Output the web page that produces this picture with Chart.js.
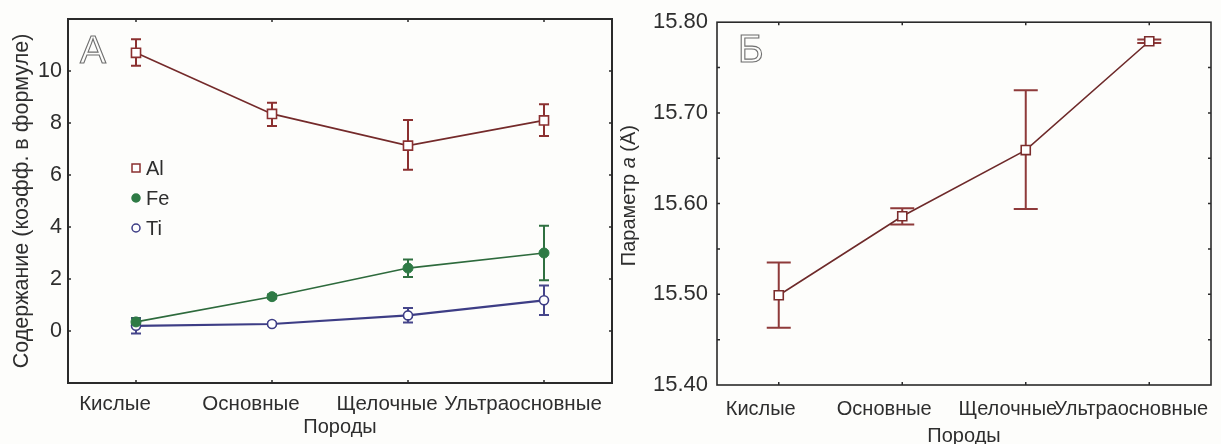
<!DOCTYPE html>
<html>
<head>
<meta charset="utf-8">
<script src="https://cdn.jsdelivr.net/npm/chart.js@4.4.1/dist/chart.umd.min.js"></script>
<style>
html, body { margin: 0; padding: 0; background: #fdfdfb; }
#wrap { position: relative; width: 1221px; height: 444px; overflow: hidden; }
#left { position: absolute; left: 0; top: 0; }
#right { position: absolute; left: 620px; top: 0; }
</style>
</head>
<body>
<div id="wrap">
    <canvas id="left" width="620" height="444"></canvas>
    <canvas id="right" width="601" height="444"></canvas>
</div>
<script>
// categories
var rocks = ['Кислые', 'Основные', 'Щелочные', 'Ультраосновные'];

// panel A: content (formula coefficients), mean and error bar ends
var al = [10.7, 8.35, 7.13, 8.1];
var alLo = [10.2, 7.88, 6.2, 7.5];
var alHi = [11.22, 8.78, 8.12, 8.72];
var fe = [0.35, 1.32, 2.42, 3.0];
var feLo = [0.2, 1.25, 2.08, 1.95];
var feHi = [0.5, 1.4, 2.75, 4.05];
var ti = [0.2, 0.27, 0.6, 1.18];
var tiLo = [-0.1, 0.22, 0.33, 0.62];
var tiHi = [0.48, 0.32, 0.88, 1.75];

// panel Б: cell parameter a
var pa = [15.499, 15.586, 15.659, 15.779];
var paLo = [15.463, 15.577, 15.594, 15.777];
var paHi = [15.535, 15.595, 15.725, 15.781];

var FONT = "'Liberation Sans', Arial, sans-serif";
var TXT = '#2e2e2e';

// error bars, drawn under the points
var errorBars = {
    id: 'errorBars',
    beforeDatasetsDraw: function(chart) {
        var ctx = chart.ctx;
        var y = chart.scales.y;
        var cap = chart.options.plugins.errorBars.cap;
        chart.data.datasets.forEach(function(ds, di) {
            var meta = chart.getDatasetMeta(di);
            ctx.save();
            ctx.strokeStyle = ds.errColor;
            ctx.lineWidth = 2;
            ctx.beginPath();
            meta.data.forEach(function(pt, i) {
                var t = y.getPixelForValue(ds.hi[i]);
                var b = y.getPixelForValue(ds.lo[i]);
                ctx.moveTo(pt.x, t); ctx.lineTo(pt.x, b);
                ctx.moveTo(pt.x - cap, t); ctx.lineTo(pt.x + cap, t);
                ctx.moveTo(pt.x - cap, b); ctx.lineTo(pt.x + cap, b);
            });
            ctx.stroke();
            ctx.restore();
        });
    }
};

// box round the plot and small inward ticks on every side
var frame = {
    id: 'frame',
    afterDraw: function(chart) {
        var ctx = chart.ctx, a = chart.chartArea;
        var x = chart.scales.x, y = chart.scales.y;
        ctx.save();
        ctx.strokeStyle = '#2a2a2a';
        ctx.lineWidth = chart.options.plugins.frame.width;
        ctx.strokeRect(a.left, a.top, a.right - a.left, a.bottom - a.top);
        ctx.lineWidth = 1.5;
        ctx.beginPath();
        x.ticks.forEach(function(t, i) {
            var px = x.getPixelForTick(i);
            ctx.moveTo(px, a.bottom); ctx.lineTo(px, a.bottom - 3);
            ctx.moveTo(px, a.top); ctx.lineTo(px, a.top + 3);
        });
        y.ticks.forEach(function(t, i) {
            var py = y.getPixelForTick(i);
            if (py <= a.top + 1 || py >= a.bottom - 1) return;
            ctx.moveTo(a.left, py); ctx.lineTo(a.left + 3, py);
            ctx.moveTo(a.right, py); ctx.lineTo(a.right - 3, py);
        });
        ctx.stroke();

        // outlined panel letter
        var o = chart.options.plugins.frame;
        ctx.font = '39px ' + FONT;
        ctx.textBaseline = 'top';
        ctx.strokeStyle = '#6f6f6f';
        ctx.lineWidth = 1.1;
        ctx.strokeText(o.letter, a.left + o.lx, a.top + o.ly);
        ctx.restore();
    }
};

// legend inside panel A
var innerLegend = {
    id: 'innerLegend',
    afterDraw: function(chart) {
        var o = chart.options.plugins.innerLegend;
        if (!o.show) return;
        var ctx = chart.ctx;
        ctx.save();
        ctx.font = '20px ' + FONT;
        ctx.textBaseline = 'middle';
        chart.data.datasets.forEach(function(ds, i) {
            var cx = o.x, cy = o.y + i * o.step;
            ctx.lineWidth = 1.5;
            ctx.strokeStyle = ds.pointBorderColor;
            ctx.fillStyle = ds.pointBackgroundColor;
            ctx.beginPath();
            if (ds.pointStyle === 'rect') {
                ctx.rect(cx - 4, cy - 4, 8, 8);
            } else {
                ctx.arc(cx, cy, 4, 0, Math.PI * 2);
            }
            ctx.fill();
            ctx.stroke();
            ctx.fillStyle = TXT;
            ctx.fillText(ds.label, cx + 10, cy + 1);
        });
        ctx.restore();
    }
};

// y title of panel Б with italic a
var paramTitle = {
    id: 'paramTitle',
    afterDraw: function(chart) {
        var o = chart.options.plugins.paramTitle;
        if (!o.show) return;
        var ctx = chart.ctx, a = chart.chartArea;
        var parts = [['Параметр ', 'normal'], ['a', 'italic'], [' (Å)', 'normal']];
        ctx.save();
        ctx.fillStyle = TXT;
        ctx.textBaseline = 'middle';
        var w = 0;
        parts.forEach(function(p) { ctx.font = p[1] + ' 20px ' + FONT; w += ctx.measureText(p[0]).width; });
        ctx.translate(o.x, (a.top + a.bottom) / 2 - 8);
        ctx.rotate(-Math.PI / 2);
        var cx = -w / 2;
        parts.forEach(function(p) {
            ctx.font = p[1] + ' 20px ' + FONT;
            ctx.fillText(p[0], cx, 0);
            cx += ctx.measureText(p[0]).width;
        });
        ctx.restore();
    }
};

function baseOptions(o) {
    return {
        responsive: false,
        animation: false,
        devicePixelRatio: 1,
        layout: { padding: { top: o.top, right: o.right, left: 0, bottom: 0 } },
        plugins: {
            legend: { display: false },
            tooltip: { enabled: false },
            errorBars: { cap: o.cap },
            frame: { width: o.frameWidth, letter: o.letter, lx: o.lx, ly: o.ly },
            innerLegend: { show: o.legend, x: 136, y: 168, step: 30 },
            paramTitle: { show: o.param, x: 9 }
        },
        scales: {
            x: {
                offset: true,
                grid: { display: false, drawTicks: false },
                border: { display: false },
                ticks: {
                    color: TXT, font: { family: FONT, size: o.xfont }, padding: o.xpad,
                    maxRotation: 0, autoSkip: false, labelOffset: o.labelOffset
                },
                title: {
                    display: true, text: 'Породы', color: TXT,
                    font: { family: FONT, size: 20, lineHeight: o.xtLine },
                    padding: { top: 0, bottom: o.xtPad }
                },
                afterFit: function(s) {
                    s.height = o.xh;
                    // long last label may hang past the plot edge, as in the original
                    s.paddingLeft = 0;
                    s.paddingRight = 0;
                }
            },
            y: o.y
        }
    };
}

var leftY = {
    min: -2, max: 12,
    grid: { display: false, drawTicks: false },
    border: { display: false },
    ticks: {
        stepSize: 2, color: TXT, font: { family: FONT, size: 21.5 }, padding: 6,
        callback: function(v) { return (v < 0 || v > 10) ? '' : v; }
    },
    title: {
        display: true, text: 'Содержание (коэфф. в формуле)', color: TXT,
        font: { family: FONT, size: 21.5, lineHeight: 1.2 },
        padding: { top: 9, bottom: 0 }
    },
    afterFit: function(s) { s.width = 68; }
};

var rightY = {
    min: 15.4, max: 15.8,
    grid: { display: false, drawTicks: false },
    border: { display: false },
    ticks: {
        stepSize: 0.05, color: TXT, font: { family: FONT, size: 22 }, padding: 9,
        callback: function(v) {
            var k = Math.round(v * 100);
            return k % 10 === 0 ? (k / 100).toFixed(2) : '';
        }
    },
    title: { display: false },
    afterFit: function(s) { s.width = 97; }
};

new Chart(document.getElementById('left'), {
    type: 'line',
    data: {
        labels: rocks,
        datasets: [{
            label: 'Al', data: al, lo: alLo, hi: alHi, errColor: '#8b3030',
            borderColor: '#742a2a', borderWidth: 1.6,
            pointStyle: 'rect', pointRadius: 6.4, pointBorderWidth: 1.6,
            pointBorderColor: '#8b3030', pointBackgroundColor: '#ffffff'
        }, {
            label: 'Fe', data: fe, lo: feLo, hi: feHi, errColor: '#2f7040',
            borderColor: '#2d6a3c', borderWidth: 1.6,
            pointStyle: 'circle', pointRadius: 5, pointBorderWidth: 1,
            pointBorderColor: '#2e7a45', pointBackgroundColor: '#2e7a45'
        }, {
            label: 'Ti', data: ti, lo: tiLo, hi: tiHi, errColor: '#45458a',
            borderColor: '#3d3d85', borderWidth: 2.2,
            pointStyle: 'circle', pointRadius: 4.5, pointBorderWidth: 1.6,
            pointBorderColor: '#3d3d85', pointBackgroundColor: '#ffffff'
        }]
    },
    options: baseOptions({
        top: 19, right: 8, cap: 5, frameWidth: 2, letter: 'А', lx: 12, ly: 14,
        legend: true, param: false, xpad: 9, labelOffset: -21, xfont: 20.5,
        xtLine: 1.2, xtPad: 5, xh: 61, y: leftY
    }),
    plugins: [errorBars, frame, innerLegend, paramTitle]
});

new Chart(document.getElementById('right'), {
    type: 'line',
    data: {
        labels: rocks,
        datasets: [{
            label: 'a', data: pa, lo: paLo, hi: paHi, errColor: '#8e3a3a',
            borderColor: '#6e2a2a', borderWidth: 1.6,
            pointStyle: 'rect', pointRadius: 6.4, pointBorderWidth: 1.6,
            pointBorderColor: '#7b2c2c', pointBackgroundColor: '#ffffff'
        }]
    },
    options: baseOptions({
        top: 22, right: 10, cap: 12, frameWidth: 1.6, letter: 'Б', lx: 21, ly: 10,
        legend: false, param: true, xpad: 12, labelOffset: -18, xfont: 20,
        xtLine: 0.8, xtPad: 0, xh: 59, y: rightY
    }),
    plugins: [errorBars, frame, innerLegend, paramTitle]
});
</script>
</body>
</html>
